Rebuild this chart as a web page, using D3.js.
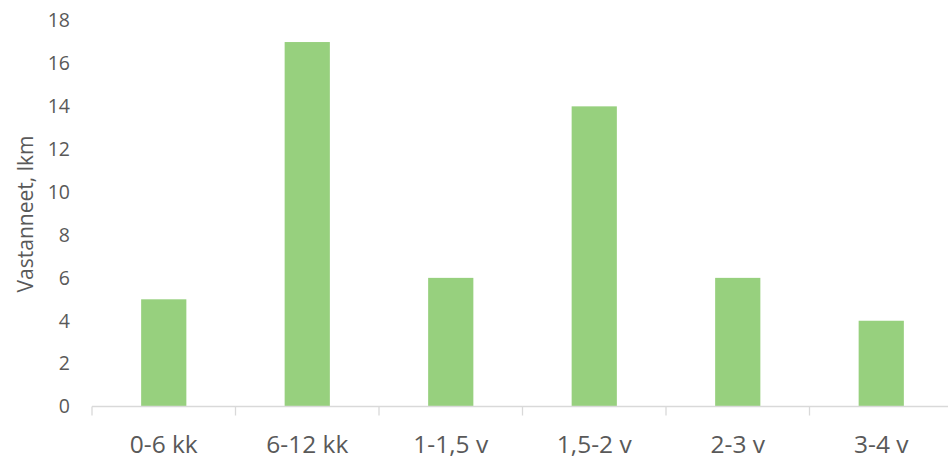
<!DOCTYPE html>
<html lang="fi">
<head>
<meta charset="UTF-8">
<title>Vastanneet</title>
<script src="https://cdnjs.cloudflare.com/ajax/libs/d3/7.8.5/d3.min.js"></script>
<style>
  body { margin: 0; background: #fff; }
  text { font-family: "Open Sans", sans-serif; fill: #595959; }
</style>
</head>
<body>
<div id="chart"></div>
<script>
// data
var categories = ["0-6 kk", "6-12 kk", "1-1,5 v", "1,5-2 v", "2-3 v", "3-4 v"];
var values = [5, 17, 6, 14, 6, 4];
var yTicks = [0, 2, 4, 6, 8, 10, 12, 14, 16, 18];

var w = 948, h = 461;
var plotLeft = 92, plotRight = 953, plotTop = 20.6, plotBottom = 406.5;

var svg = d3.select("#chart").append("svg")
    .attr("width", w)
    .attr("height", h);

var x = d3.scaleBand().domain(categories).range([plotLeft, plotRight]).padding(0);
var y = d3.scaleLinear().domain([0, 18]).range([plotBottom, plotTop]);

var barW = x.bandwidth() * 0.315;

// bars
svg.selectAll("rect.bar")
    .data(values)
    .enter().append("rect")
    .attr("class", "bar")
    .attr("x", function(d, i) { return x(categories[i]) + x.bandwidth() / 2 - barW / 2; })
    .attr("y", function(d) { return y(d); })
    .attr("width", barW)
    .attr("height", function(d) { return y(0) - y(d); })
    .attr("fill", "#97d07e");

// x axis line
svg.append("line")
    .attr("x1", plotLeft).attr("x2", plotRight)
    .attr("y1", y(0)).attr("y2", y(0))
    .attr("stroke", "#d9d9d9").attr("stroke-width", 1.3);

// tick marks between categories
var bounds = categories.map(function(c) { return x(c); }).concat([plotRight]);
svg.selectAll("line.tick")
    .data(bounds)
    .enter().append("line")
    .attr("class", "tick")
    .attr("x1", function(d) { return d; }).attr("x2", function(d) { return d; })
    .attr("y1", y(0)).attr("y2", y(0) + 9)
    .attr("stroke", "#d9d9d9").attr("stroke-width", 1.3);

// category labels
svg.selectAll("text.cat")
    .data(categories)
    .enter().append("text")
    .attr("class", "cat")
    .attr("x", function(d) { return x(d) + x.bandwidth() / 2; })
    .attr("y", 452.5)
    .attr("text-anchor", "middle")
    .attr("font-size", "24.5px")
    .text(function(d) { return d; });

// y tick labels
svg.selectAll("text.ytick")
    .data(yTicks)
    .enter().append("text")
    .attr("class", "ytick")
    .attr("x", 70)
    .attr("y", function(d) { return y(d); })
    .attr("dy", "0.35em")
    .attr("text-anchor", "end")
    .attr("font-size", "19.5px")
    .text(function(d) { return d; });

// y title
svg.append("text")
    .attr("transform", "translate(33," + 214 + ") rotate(-90)")
    .attr("text-anchor", "middle")
    .attr("font-size", "21px")
    .text("Vastanneet, lkm");
</script>
</body>
</html>
